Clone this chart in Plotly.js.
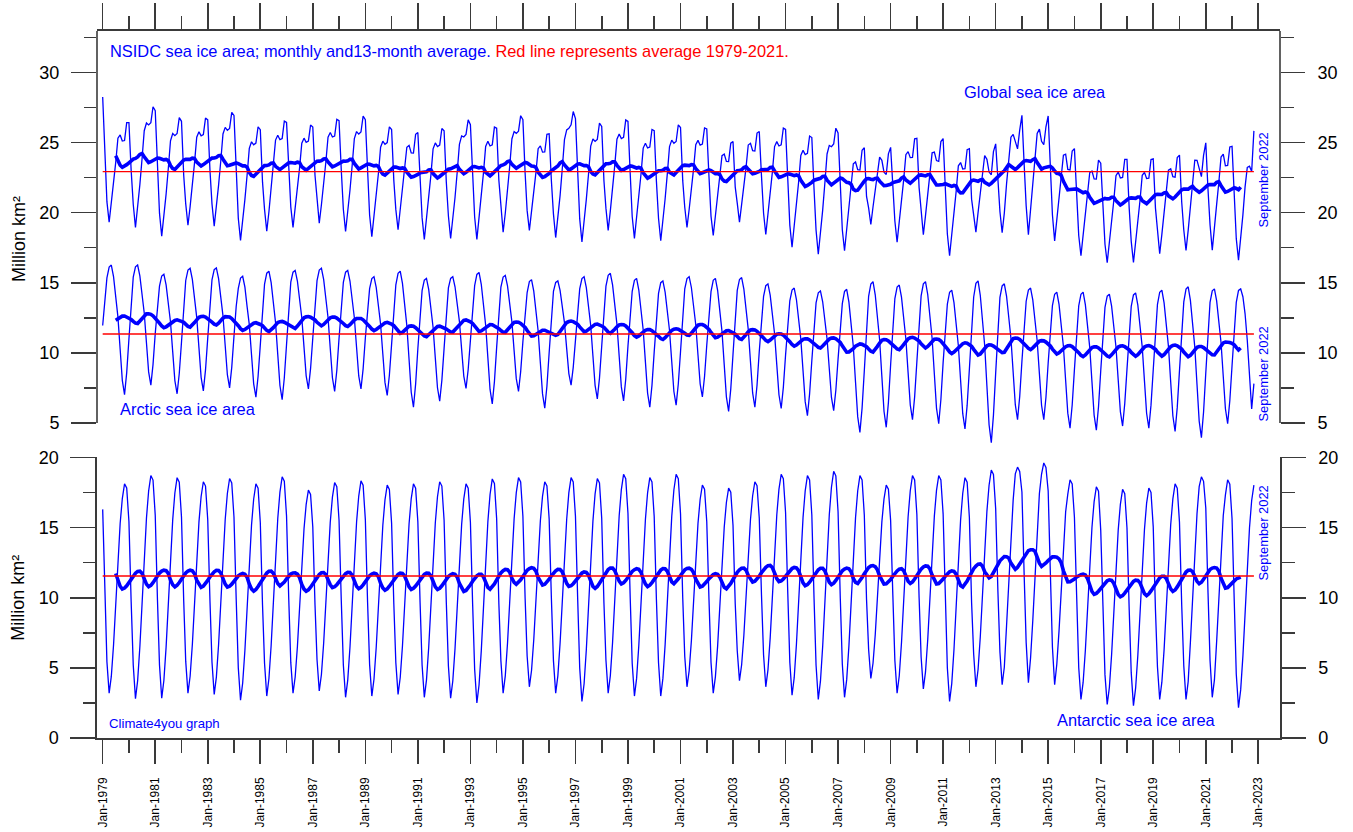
<!DOCTYPE html>
<html>
<head>
<meta charset="utf-8">
<script src="https://cdn.plot.ly/plotly-3.0.1.min.js"></script>
<style>
  html, body { margin: 0; padding: 0; background: #ffffff; }
  #chart { width: 1353px; height: 832px; }
</style>
</head>
<body>
<div id="chart"></div>
<script>
// ---------------- DATA (million km², monthly, Nov 1978 .. Sep 2022) ----------------
// The original graph plots its first monthly value (Nov 1978) at the "Jan-1979" tick.
const firstPlotYear = 1979;
const firstPlotMonth = 1;

const arctic = [
  // 1978 Nov-Dec
  11.95, 13.70,
  // 1979
  15.34, 16.12, 16.26, 15.43, 13.95, 12.56, 10.25, 8.04, 7.02, 8.59, 10.99, 13.30,
  // 1980
  15.40, 16.13, 16.26, 15.49, 14.12, 12.84, 10.70, 8.64, 7.70, 9.16, 11.38, 13.52,
  // 1981
  14.76, 15.48, 15.61, 14.84, 13.48, 12.20, 10.07, 8.02, 7.08, 8.53, 10.75, 12.88,
  // 1982
  15.16, 15.90, 16.03, 15.24, 13.85, 12.53, 10.35, 8.25, 7.29, 8.78, 11.05, 13.23,
  // 1983
  15.20, 15.93, 16.06, 15.29, 13.92, 12.64, 10.50, 8.44, 7.50, 8.96, 11.18, 13.32,
  // 1984
  14.60, 15.33, 15.46, 14.68, 13.31, 12.01, 9.86, 7.79, 6.84, 8.31, 10.55, 12.70,
  // 1985
  14.90, 15.68, 15.82, 15.00, 13.53, 12.16, 9.87, 7.67, 6.66, 8.22, 10.60, 12.89,
  // 1986
  15.04, 15.75, 15.88, 15.12, 13.77, 12.50, 10.39, 8.36, 7.43, 8.87, 11.06, 13.18,
  // 1987
  15.15, 15.90, 16.03, 15.24, 13.84, 12.52, 10.32, 8.22, 7.25, 8.74, 11.03, 13.22,
  // 1988
  15.03, 15.75, 15.88, 15.12, 13.77, 12.50, 10.38, 8.35, 7.42, 8.86, 11.06, 13.17,
  // 1989
  14.58, 15.30, 15.43, 14.67, 13.31, 12.04, 9.92, 7.89, 6.96, 8.40, 10.60, 12.72,
  // 1990
  14.85, 15.67, 15.82, 14.95, 13.40, 11.94, 9.52, 7.19, 6.12, 7.77, 10.29, 12.72,
  // 1991
  14.43, 15.18, 15.31, 14.52, 13.12, 11.81, 9.62, 7.51, 6.55, 8.04, 10.32, 12.51,
  // 1992
  14.63, 15.31, 15.43, 14.71, 13.44, 12.24, 10.25, 8.34, 7.46, 8.81, 10.89, 12.88,
  // 1993
  14.79, 15.59, 15.73, 14.89, 13.39, 11.98, 9.64, 7.39, 6.36, 7.95, 10.39, 12.73,
  // 1994
  14.69, 15.40, 15.52, 14.78, 13.45, 12.21, 10.14, 8.16, 7.25, 8.66, 10.81, 12.87,
  // 1995
  14.30, 15.08, 15.22, 14.40, 12.93, 11.56, 9.27, 7.07, 6.06, 7.62, 10.00, 12.29,
  // 1996
  14.39, 15.02, 15.13, 14.46, 13.27, 12.16, 10.30, 8.52, 7.70, 8.96, 10.89, 12.75,
  // 1997
  14.56, 15.30, 15.43, 14.65, 13.25, 11.95, 9.77, 7.68, 6.72, 8.20, 10.47, 12.64,
  // 1998
  14.76, 15.53, 15.67, 14.85, 13.40, 12.03, 9.76, 7.57, 6.57, 8.12, 10.48, 12.76,
  // 1999
  14.39, 15.17, 15.31, 14.48, 13.01, 11.63, 9.34, 7.13, 6.12, 7.68, 10.07, 12.37,
  // 2000
  14.24, 15.00, 15.13, 14.33, 12.92, 11.59, 9.37, 7.24, 6.27, 7.78, 10.08, 12.29,
  // 2001
  14.57, 15.30, 15.43, 14.66, 13.29, 12.00, 9.85, 7.79, 6.85, 8.31, 10.54, 12.68,
  // 2002
  14.36, 15.17, 15.31, 14.46, 12.94, 11.51, 9.14, 6.86, 5.82, 7.43, 9.90, 12.27,
  // 2003
  14.45, 15.23, 15.37, 14.54, 13.06, 11.67, 9.36, 7.14, 6.12, 7.69, 10.10, 12.41,
  // 2004
  14.03, 14.79, 14.92, 14.12, 12.70, 11.36, 9.14, 7.01, 6.03, 7.54, 9.85, 12.08,
  // 2005
  13.71, 14.48, 14.62, 13.80, 12.35, 10.98, 8.71, 6.52, 5.52, 7.07, 9.43, 11.71,
  // 2006
  13.56, 14.28, 14.41, 13.64, 12.28, 11.00, 8.87, 6.82, 5.88, 7.33, 9.55, 11.68,
  // 2007
  13.51, 14.38, 14.53, 13.61, 11.98, 10.45, 7.90, 5.45, 4.33, 6.06, 8.72, 11.27,
  // 2008
  14.03, 14.91, 15.07, 14.14, 12.48, 10.92, 8.32, 5.83, 4.69, 6.45, 9.15, 11.75,
  // 2009
  13.87, 14.69, 14.83, 13.97, 12.43, 10.99, 8.59, 6.29, 5.23, 6.86, 9.36, 11.76,
  // 2010
  14.06, 14.92, 15.07, 14.16, 12.54, 11.02, 8.49, 6.06, 4.95, 6.67, 9.30, 11.83,
  // 2011
  13.48, 14.32, 14.47, 13.58, 12.00, 10.51, 8.04, 5.66, 4.57, 6.25, 8.83, 11.30,
  // 2012
  13.98, 14.96, 15.13, 14.09, 12.25, 10.52, 7.64, 4.87, 3.60, 5.56, 8.56, 11.44,
  // 2013
  13.95, 14.77, 14.92, 14.05, 12.50, 11.04, 8.62, 6.30, 5.23, 6.88, 9.40, 11.82,
  // 2014
  13.68, 14.48, 14.62, 13.77, 12.27, 10.86, 8.52, 6.26, 5.23, 6.83, 9.27, 11.62,
  // 2015
  13.36, 14.18, 14.33, 13.46, 11.91, 10.45, 8.03, 5.70, 4.63, 6.28, 8.80, 11.23,
  // 2016
  13.35, 14.18, 14.33, 13.44, 11.87, 10.39, 7.93, 5.56, 4.48, 6.15, 8.72, 11.18,
  // 2017
  13.24, 14.04, 14.18, 13.33, 11.83, 10.42, 8.07, 5.81, 4.78, 6.38, 8.82, 11.17,
  // 2018
  13.31, 14.13, 14.27, 13.40, 11.86, 10.41, 8.00, 5.69, 4.63, 6.27, 8.78, 11.19,
  // 2019
  13.46, 14.32, 14.47, 13.56, 11.95, 10.44, 7.92, 5.51, 4.40, 6.11, 8.73, 11.25,
  // 2020
  13.63, 14.55, 14.71, 13.74, 12.02, 10.41, 7.72, 5.13, 3.95, 5.78, 8.58, 11.27,
  // 2021
  13.60, 14.42, 14.56, 13.70, 12.16, 10.72, 8.31, 6.01, 4.95, 6.58, 9.08, 11.48,
  // 2022 Jan-Sep
  13.60, 14.45, 14.56, 14.00, 12.80, 10.90, 8.30, 6.00, 7.80
];

const antarctic = [
  // 1978 Nov-Dec
  16.30, 10.40,
  // 1979
  5.44, 3.20, 4.39, 6.63, 9.61, 12.75, 15.29, 17.07, 18.12, 17.82, 15.43, 9.71,
  // 1980
  5.20, 2.81, 4.08, 6.50, 9.68, 13.00, 15.69, 17.61, 18.71, 18.39, 15.88, 9.84,
  // 1981
  5.20, 2.84, 4.10, 6.48, 9.63, 12.92, 15.57, 17.47, 18.56, 18.24, 15.76, 9.77,
  // 1982
  5.46, 3.20, 4.40, 6.67, 9.68, 12.85, 15.41, 17.22, 18.27, 17.96, 15.56, 9.79,
  // 1983
  5.42, 3.11, 4.34, 6.67, 9.74, 12.97, 15.58, 17.43, 18.50, 18.19, 15.75, 9.87,
  // 1984
  5.00, 2.69, 3.92, 6.26, 9.34, 12.57, 15.19, 17.04, 18.12, 17.81, 15.36, 9.47,
  // 1985
  5.33, 2.99, 4.24, 6.61, 9.74, 13.01, 15.65, 17.53, 18.62, 18.31, 15.83, 9.87,
  // 1986
  5.37, 3.20, 4.35, 6.51, 9.40, 12.45, 14.92, 16.65, 17.67, 17.37, 15.04, 9.47,
  // 1987
  5.58, 3.35, 4.53, 6.76, 9.73, 12.86, 15.39, 17.17, 18.21, 17.91, 15.53, 9.83,
  // 1988
  5.21, 2.90, 4.13, 6.47, 9.55, 12.78, 15.40, 17.25, 18.33, 18.02, 15.57, 9.68,
  // 1989
  5.25, 2.99, 4.19, 6.45, 9.46, 12.62, 15.17, 16.98, 18.03, 17.72, 15.32, 9.56,
  // 1990
  5.36, 3.11, 4.31, 6.56, 9.56, 12.72, 15.27, 17.07, 18.12, 17.81, 15.42, 9.67,
  // 1991
  5.21, 2.90, 4.13, 6.45, 9.52, 12.74, 15.35, 17.20, 18.27, 17.96, 15.52, 9.65,
  // 1992
  5.13, 2.84, 4.06, 6.37, 9.42, 12.62, 15.22, 17.05, 18.12, 17.81, 15.38, 9.54,
  // 1993
  4.90, 2.50, 3.78, 6.21, 9.41, 12.74, 15.44, 17.36, 18.47, 18.15, 15.63, 9.56,
  // 1994
  5.50, 3.20, 4.43, 6.75, 9.82, 13.04, 15.64, 17.49, 18.56, 18.25, 15.81, 9.94,
  // 1995
  5.84, 3.65, 4.81, 7.00, 9.92, 13.00, 15.49, 17.24, 18.27, 17.97, 15.62, 10.00,
  // 1996
  5.50, 3.20, 4.43, 6.75, 9.82, 13.04, 15.60, 17.49, 18.56, 18.25, 15.81, 9.90,
  // 1997
  4.99, 2.60, 3.87, 6.29, 9.47, 12.79, 15.48, 17.40, 18.50, 18.18, 15.67, 9.63,
  // 1998
  5.54, 3.20, 4.45, 6.81, 9.93, 13.20, 15.84, 17.71, 18.80, 18.49, 16.02, 10.07,
  // 1999
  5.33, 2.99, 4.23, 6.59, 9.71, 12.97, 15.60, 17.48, 18.56, 18.25, 15.78, 9.84,
  // 2000
  5.36, 2.99, 4.25, 6.66, 9.82, 13.12, 15.80, 17.70, 18.80, 18.48, 15.99, 9.97,
  // 2001
  5.81, 3.65, 4.79, 6.93, 9.81, 12.84, 15.30, 17.02, 18.03, 17.73, 15.42, 9.87,
  // 2002
  5.39, 3.20, 4.36, 6.55, 9.47, 12.55, 15.04, 16.79, 17.82, 17.52, 15.17, 9.55,
  // 2003
  6.22, 4.09, 5.22, 7.32, 10.15, 13.15, 15.58, 17.27, 18.27, 17.98, 15.68, 10.21,
  // 2004
  5.92, 3.65, 4.86, 7.14, 10.17, 13.35, 15.92, 17.74, 18.80, 18.49, 16.08, 10.28,
  // 2005
  5.40, 3.05, 4.30, 6.68, 9.81, 13.09, 15.73, 17.62, 18.71, 18.39, 15.92, 9.95,
  // 2006
  5.19, 2.75, 4.05, 6.54, 9.79, 13.18, 15.92, 17.88, 19.01, 18.69, 16.13, 9.97,
  // 2007
  5.27, 2.90, 4.16, 6.57, 9.73, 13.03, 15.71, 17.61, 18.71, 18.39, 15.90, 9.88,
  // 2008
  6.31, 4.24, 5.33, 7.36, 10.12, 13.04, 15.41, 17.05, 18.03, 17.74, 15.50, 10.15,
  // 2009
  5.53, 3.20, 4.44, 6.79, 9.89, 13.14, 15.76, 17.63, 18.71, 18.40, 15.94, 10.02,
  // 2010
  5.78, 3.50, 4.71, 7.01, 10.05, 13.24, 15.82, 17.65, 18.71, 18.40, 15.98, 10.16,
  // 2011
  4.99, 2.60, 3.88, 6.31, 9.50, 12.83, 15.53, 17.45, 18.56, 18.24, 15.73, 9.66,
  // 2012
  5.97, 3.65, 4.88, 7.22, 10.31, 13.55, 16.16, 18.02, 19.10, 18.79, 16.34, 10.44,
  // 2013
  6.13, 3.80, 5.04, 7.99, 11.09, 14.34, 16.96, 18.83, 19.31, 19.00, 17.54, 11.62,
  // 2014
  6.80, 3.95, 5.70, 8.38, 11.51, 14.79, 17.43, 18.82, 19.61, 19.29, 17.62, 11.65,
  // 2015
  6.49, 3.80, 5.26, 7.64, 10.57, 13.64, 16.13, 17.38, 18.41, 18.11, 15.76, 10.14,
  // 2016
  5.02, 2.75, 3.96, 6.24, 9.28, 12.46, 15.03, 16.85, 17.91, 17.60, 14.80, 9.40,
  // 2017
  4.50, 2.39, 3.61, 5.93, 9.00, 12.21, 14.82, 16.66, 17.73, 17.42, 14.98, 9.12,
  // 2018
  4.64, 2.31, 3.55, 5.90, 9.00, 12.25, 14.87, 16.74, 17.82, 17.51, 15.05, 9.13,
  // 2019
  5.06, 2.75, 3.98, 6.30, 9.37, 12.59, 15.20, 17.05, 18.12, 17.81, 15.37, 9.50,
  // 2020
  5.13, 2.75, 4.02, 6.83, 10.01, 13.32, 16.00, 17.92, 18.62, 18.30, 16.40, 10.36,
  // 2021
  5.53, 2.90, 4.14, 6.89, 9.99, 13.24, 15.86, 17.33, 18.41, 18.10, 15.64, 9.72,
  // 2022 Jan-Sep
  4.54, 2.16, 3.43, 5.84, 9.02, 12.33, 15.01, 16.93, 18.03
];

// Averages 1979-2021 (red lines)
const avgGlobal = 22.92;
const avgArctic = 11.34;
const avgAntarctic = 11.55;

const runLength = 13;   // 13-month running average

// Text
const headerBlue = 'NSIDC sea ice area; monthly and13-month average. ';
const headerRed = 'Red line represents average 1979-2021.';
const labelGlobal = 'Global sea ice area';
const labelArctic = 'Arctic sea ice area';
const labelAntarctic = 'Antarctic sea ice area';
const labelCredit = 'Climate4you graph';
const labelLast = 'September 2022';
const yTitle = 'Million km\u00B2';

// ---------------- DERIVED ----------------
const n = arctic.length;
const dates = [];
for (let i = 0; i < n; i++) {
  const t = (firstPlotMonth - 1) + i;
  const y = firstPlotYear + Math.floor(t / 12);
  const m = (t % 12) + 1;
  dates.push(y + '-' + String(m).padStart(2, '0') + '-01');
}
const globalIce = arctic.map((v, i) => Math.round((v + antarctic[i]) * 100) / 100);

function runningMean(arr) {
  const h = (runLength - 1) / 2;
  const xs = [], ys = [];
  for (let i = h; i < arr.length - h; i++) {
    let s = 0;
    for (let k = i - h; k <= i + h; k++) s += arr[k];
    xs.push(dates[i]);
    ys.push(s / runLength);
  }
  return { xs, ys };
}
const gAvg = runningMean(globalIce);
const aAvg = runningMean(arctic);
const sAvg = runningMean(antarctic);

const BLUE = '#0000ff';
const RED = '#ff0000';
const AXC = '#3a3a3a';
const FONT = 'Liberation Sans, Arial, Helvetica, sans-serif';

const thin = { color: BLUE, width: 1.3 };
const thick = { color: BLUE, width: 3.6 };
const redLine = { color: RED, width: 1.4 };
const span = [dates[0], dates[n - 1]];

const traces = [
  { x: dates, y: globalIce, xaxis: 'x', yaxis: 'y', mode: 'lines', line: thin },
  { x: gAvg.xs, y: gAvg.ys, xaxis: 'x', yaxis: 'y', mode: 'lines', line: thick },
  { x: dates, y: arctic, xaxis: 'x', yaxis: 'y', mode: 'lines', line: thin },
  { x: aAvg.xs, y: aAvg.ys, xaxis: 'x', yaxis: 'y', mode: 'lines', line: thick },
  { x: dates, y: antarctic, xaxis: 'x2', yaxis: 'y2', mode: 'lines', line: thin },
  { x: sAvg.xs, y: sAvg.ys, xaxis: 'x2', yaxis: 'y2', mode: 'lines', line: thick },
  { x: span, y: [avgGlobal, avgGlobal], xaxis: 'x', yaxis: 'y3', mode: 'lines', line: redLine },
  { x: span, y: [avgArctic, avgArctic], xaxis: 'x', yaxis: 'y3', mode: 'lines', line: redLine },
  { x: span, y: [avgAntarctic, avgAntarctic], xaxis: 'x2', yaxis: 'y4', mode: 'lines', line: redLine }
].map(t => Object.assign({ showlegend: false, hoverinfo: 'skip' }, t));

// Upper panel: the axis is drawn from 5 to ~33, but curves may dip below 5
const topAxisSpan = [5, 32.95];
const topRange = [3.3, 32.95];
const botRange = [0, 20];
const xRange = ['1978-10-14', '2023-10-30'];

function yAxis(extra) {
  return Object.assign({
    showgrid: false, zeroline: false, showline: true, linecolor: AXC, linewidth: 1.6,
    ticks: 'outside', ticklen: 25, tickwidth: 1.6, tickcolor: AXC,
    tick0: 0, dtick: 5, ticklabelstandoff: 8,
    tickfont: { family: FONT, size: 18, color: '#000' },
    minor: { ticks: 'outside', ticklen: 12, tickwidth: 1.6, tickcolor: AXC, tick0: 0, dtick: 2.5, showgrid: false },
    fixedrange: true
  }, extra);
}
function xAxis(extra) {
  return Object.assign({
    type: 'date', range: xRange, showgrid: false, zeroline: false,
    showline: true, linecolor: AXC, linewidth: 1.6,
    ticks: 'outside', ticklen: 24, tickwidth: 1.6, tickcolor: AXC,
    tick0: '1979-01-01', dtick: 'M24',
    minor: { ticks: 'outside', ticklen: 13, tickwidth: 1.6, tickcolor: AXC, tick0: '1979-01-01', dtick: 'M12', showgrid: false },
    fixedrange: true
  }, extra);
}

const topDomain = [0.4119, 1];
const botDomain = [0, 0.3968];
const rightMinor = { ticks: 'outside', ticklen: 13, tickwidth: 1.6, tickcolor: AXC, tick0: 0, dtick: 2.5, showgrid: false };
const titleFont = { family: FONT, size: 18, color: '#000' };
const txt = (size) => ({ family: FONT, size: size, color: BLUE });

const layout = {
  width: 1353, height: 832,
  margin: { l: 97, r: 73, t: 31, b: 94, pad: 0 },
  paper_bgcolor: '#ffffff', plot_bgcolor: '#ffffff',
  font: { family: FONT, color: '#000' },
  showlegend: false,
  hovermode: false,
  xaxis: xAxis({ anchor: 'y', side: 'top', showticklabels: false, ticklen: 26 }),
  xaxis2: xAxis({ anchor: 'y2', side: 'bottom', tickformat: '%b-%Y', tickangle: -90,
                  ticklabelstandoff: 9, tickfont: { family: FONT, size: 12, color: '#000' } }),
  yaxis: yAxis({ domain: topDomain, range: topRange, anchor: 'x', side: 'left', showline: false,
                 title: { text: yTitle, font: titleFont, standoff: 9 } }),
  yaxis3: yAxis({ overlaying: 'y', range: topRange, anchor: 'x', side: 'right', showline: false,
                  ticklen: 24, ticklabelstandoff: 9, minor: rightMinor }),
  yaxis2: yAxis({ domain: botDomain, range: botRange, anchor: 'x2', side: 'left',
                  title: { text: yTitle, font: titleFont, standoff: 9 } }),
  yaxis4: yAxis({ overlaying: 'y2', range: botRange, anchor: 'x2', side: 'right',
                  ticklen: 24, ticklabelstandoff: 9, minor: rightMinor }),
  shapes: [
    { type: 'line', xref: 'paper', yref: 'y', x0: 0, x1: 0, y0: topAxisSpan[0], y1: topAxisSpan[1],
      line: { color: AXC, width: 1.6 } },
    { type: 'line', xref: 'paper', yref: 'y', x0: 1, x1: 1, y0: topAxisSpan[0], y1: topAxisSpan[1],
      line: { color: AXC, width: 1.6 } }
  ],
  annotations: [
    { xref: 'paper', yref: 'paper', x: 0.0093, y: 0.9717, xanchor: 'left', yanchor: 'middle', showarrow: false,
      text: headerBlue + '<span style="color:' + RED + '">' + headerRed + '</span>', font: txt(16.4) },
    { xref: 'paper', yref: 'paper', x: 0.7312, y: 0.9137, xanchor: 'left', yanchor: 'middle', showarrow: false,
      text: labelGlobal, font: txt(16.4) },
    { xref: 'paper', yref: 'paper', x: 0.0178, y: 0.4653, xanchor: 'left', yanchor: 'middle', showarrow: false,
      text: labelArctic, font: txt(16.4) },
    { xref: 'paper', yref: 'paper', x: 0.8098, y: 0.0255, xanchor: 'left', yanchor: 'middle', showarrow: false,
      text: labelAntarctic, font: txt(16.4) },
    { xref: 'paper', yref: 'paper', x: 0.0085, y: 0.0212, xanchor: 'left', yanchor: 'middle', showarrow: false,
      text: labelCredit, font: txt(13.2) },
    { xref: 'paper', yref: 'paper', x: 0.9861, y: 0.7893, xanchor: 'center', yanchor: 'middle', showarrow: false,
      textangle: -90, text: labelLast, font: txt(12.9) },
    { xref: 'paper', yref: 'paper', x: 0.9861, y: 0.5149, xanchor: 'center', yanchor: 'middle', showarrow: false,
      textangle: -90, text: labelLast, font: txt(12.9) },
    { xref: 'paper', yref: 'paper', x: 0.9861, y: 0.2900, xanchor: 'center', yanchor: 'middle', showarrow: false,
      textangle: -90, text: labelLast, font: txt(12.9) }
  ]
};

Plotly.newPlot('chart', traces, layout, { displayModeBar: false, staticPlot: true });
</script>
</body>
</html>
